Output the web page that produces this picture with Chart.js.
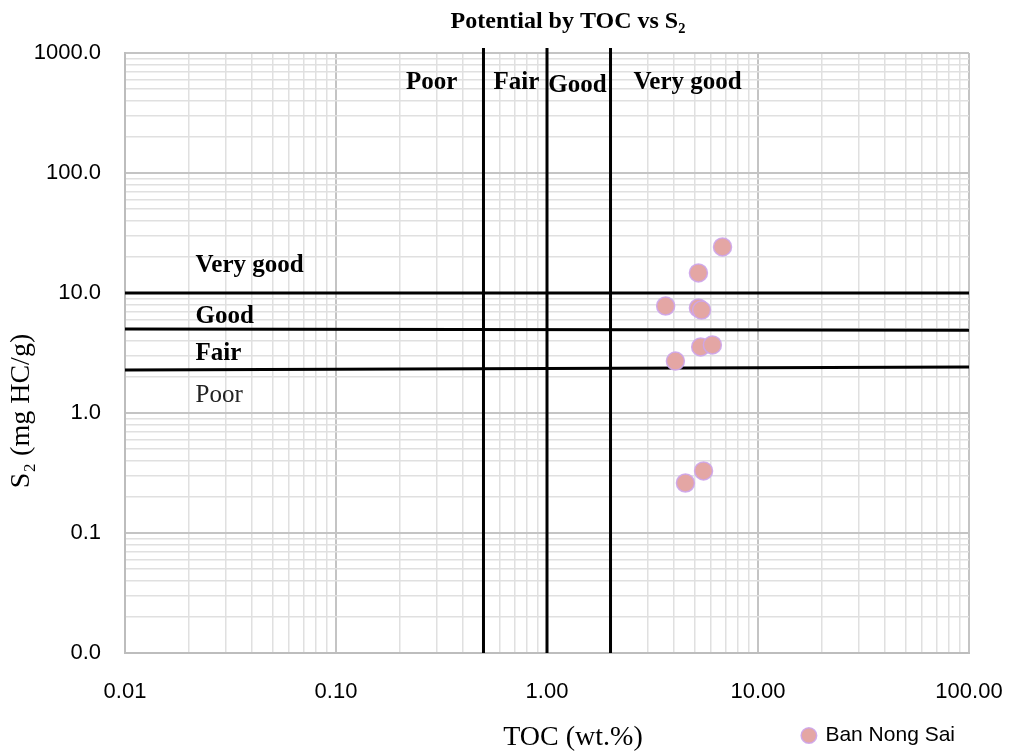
<!DOCTYPE html>
<html>
<head>
<meta charset="utf-8">
<title>Potential by TOC vs S2</title>
<script src="https://cdn.jsdelivr.net/npm/chart.js@4.4.1/dist/chart.umd.min.js"></script>
<style>
  html, body { margin: 0; padding: 0; background: #fff; }
</style>
</head>
<body>
<canvas id="myChart" width="1009" height="756"></canvas>
<script>
// samples
var seriesName = 'Ban Nong Sai';
var tocValues = [6.79, 5.22, 3.65, 5.22, 5.40, 5.35, 6.08, 4.06, 5.52, 4.53];
var s2Values = [24.2, 14.7, 7.79, 7.50, 7.20, 3.55, 3.69, 2.71, 0.329, 0.261];

var xTickValues = [0.01, 0.1, 1, 10, 100];
var xTickLabels = ['0.01', '0.10', '1.00', '10.00', '100.00'];
var yTickValues = [0.01, 0.1, 1, 10, 100, 1000];
var yTickLabels = ['0.0', '0.1', '1.0', '10.0', '100.0', '1000.0'];

// class boundaries
var tocLimits = [0.5, 1, 2];
var tocLimitTop = 1100;
var s2LimitsLeft = [10, 5.0, 2.28];
var s2LimitsRight = [10, 4.9, 2.42];

var tocClassNames = ['Poor', 'Fair', 'Good', 'Very good'];
var s2ClassNames = ['Very good', 'Good', 'Fair', 'Poor'];

// where the class names sit (in data units)
var tocClassAt = [[0.284, 562], [0.716, 562], [1.395, 531], [4.64, 570]];
var s2ClassAt = [[0.0216, 16.8], [0.0216, 6.31], [0.0216, 3.10], [0.0216, 1.39]];

var serif = '"Liberation Serif", "Times New Roman", "DejaVu Serif", serif';
var sans = '"Liberation Sans", Arial, sans-serif';

function logTicks(decades) {
    var ticks = [];
    for (var i = 0; i < decades.length; i++) {
        ticks.push({ value: decades[i], major: true });
        if (i < decades.length - 1) {
            for (var m = 2; m <= 9; m++) ticks.push({ value: decades[i] * m, major: false });
        }
    }
    return ticks;
}

function labelFor(values, labels) {
    return function(value) {
        for (var i = 0; i < values.length; i++) {
            if (Math.abs(value - values[i]) < values[i] * 1e-6) return labels[i];
        }
        return '';
    };
}

function lineDataset(points) {
    return {
        type: 'scatter',
        data: points,
        showLine: true,
        borderColor: '#000',
        borderWidth: 3,
        pointRadius: 0,
        pointHoverRadius: 0,
        fill: false,
        clip: false,
        order: 1
    };
}

var datasets = [{
    label: seriesName,
    data: tocValues.map(function(v, i) { return { x: v, y: s2Values[i] }; }),
    backgroundColor: 'rgb(228,166,164)',
    borderColor: 'rgba(205,165,235,0.9)',
    borderWidth: 1.5,
    pointRadius: 9,
    pointHoverRadius: 9,
    order: 0
}];
tocLimits.forEach(function(v) {
    datasets.push(lineDataset([{ x: v, y: yTickValues[0] }, { x: v, y: tocLimitTop }]));
});
s2LimitsLeft.forEach(function(v, i) {
    datasets.push(lineDataset([{ x: xTickValues[0], y: v }, { x: xTickValues[xTickValues.length - 1], y: s2LimitsRight[i] }]));
});

var gridColor = function(c) { return c.tick && c.tick.major ? '#C4C4C4' : '#E0E0E0'; };
var gridWidth = function(c) { return c.tick && c.tick.major ? 2 : 1.5; };

var textLayer = {
    id: 'textLayer',
    afterDraw: function(chart) {
        var ctx = chart.ctx;
        var x = chart.scales.x, y = chart.scales.y;
        ctx.save();
        ctx.fillStyle = '#000';
        ctx.textBaseline = 'middle';

        ctx.textAlign = 'center';
        ctx.font = 'bold 24px ' + serif;
        ctx.fillText('Potential by TOC vs S\u2082', 568, 22);

        ctx.font = '28px ' + serif;
        ctx.fillText('TOC (wt.%)', 573, 738);

        ctx.save();
        ctx.translate(22, 411);
        ctx.rotate(-Math.PI / 2);
        ctx.fillText('S\u2082 (mg HC/g)', 0, 0);
        ctx.restore();

        ctx.font = 'bold 25px ' + serif;
        tocClassNames.forEach(function(name, i) {
            ctx.fillText(name, x.getPixelForValue(tocClassAt[i][0]), y.getPixelForValue(tocClassAt[i][1]));
        });
        ctx.textAlign = 'left';
        s2ClassNames.forEach(function(name, i) {
            ctx.font = (name === 'Poor' ? '' : 'bold ') + '25px ' + serif;
            ctx.fillStyle = name === 'Poor' ? '#222' : '#000';
            ctx.fillText(name, x.getPixelForValue(s2ClassAt[i][0]), y.getPixelForValue(s2ClassAt[i][1]));
        });
        ctx.restore();
    }
};

var context = document.getElementById('myChart').getContext('2d');
var myChart = new Chart(context, {
    type: 'scatter',
    data: { datasets: datasets },
    plugins: [textLayer],
    options: {
        responsive: false,
        animation: false,
        layout: { padding: { top: 53, left: 0, right: 0, bottom: 0 } },
        plugins: {
            title: { display: false },
            tooltip: { enabled: false },
            legend: {
                display: true,
                position: 'bottom',
                align: 'end',
                fullSize: false,
                labels: {
                    filter: function(item) { return item.datasetIndex === 0; },
                    usePointStyle: true,
                    pointStyle: 'circle',
                    boxWidth: 12,
                    boxHeight: 11,
                    padding: 14,
                    color: '#000',
                    font: { family: sans, size: 21 }
                }
            }
        },
        scales: {
            x: {
                type: 'logarithmic',
                min: 0.01,
                max: 100,
                afterBuildTicks: function(scale) { scale.ticks = logTicks(xTickValues); },
                afterFit: function(scale) {
                    scale.height = 58;
                    scale.paddingLeft = 0;
                    scale.paddingRight = 40;
                },
                ticks: {
                    autoSkip: false,
                    maxRotation: 0,
                    padding: 26,
                    color: '#000',
                    font: { family: sans, size: 22 },
                    callback: labelFor(xTickValues, xTickLabels)
                },
                grid: { color: gridColor, lineWidth: gridWidth, drawTicks: false },
                border: { color: '#BDBDBD', width: 2 }
            },
            y: {
                type: 'logarithmic',
                min: 0.01,
                max: 1000,
                afterBuildTicks: function(scale) { scale.ticks = logTicks(yTickValues); },
                afterFit: function(scale) { scale.width = 125; },
                ticks: {
                    autoSkip: false,
                    padding: 24,
                    color: '#000',
                    font: { family: sans, size: 22 },
                    callback: labelFor(yTickValues, yTickLabels)
                },
                grid: { color: gridColor, lineWidth: gridWidth, drawTicks: false },
                border: { color: '#BDBDBD', width: 2 }
            }
        }
    }
});
</script>
</body>
</html>
